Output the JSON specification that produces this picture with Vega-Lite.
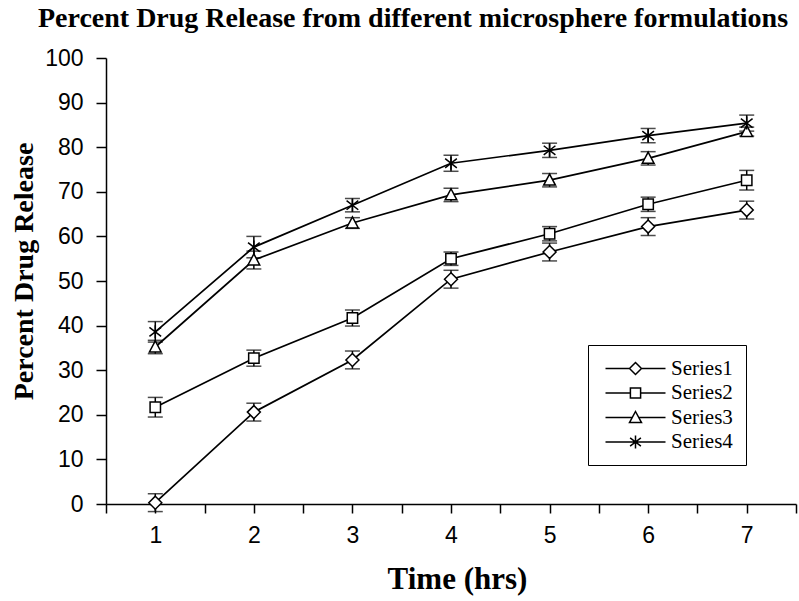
{
  "$schema": "https://vega.github.io/schema/vega-lite/v6.json",
  "autosize": "none",
  "width": 690,
  "height": 446,
  "padding": {"left": 106, "top": 58, "right": 3, "bottom": 97},
  "background": "white",
  "title": {
    "text": "Percent Drug Release from different microsphere formulations",
    "font": "Liberation Serif",
    "fontSize": 28,
    "fontWeight": "bold",
    "color": "black",
    "anchor": "middle",
    "frame": "group",
    "dx": -38,
    "baseline": "alphabetic",
    "offset": -8
  },
  "data": {
    "values": [
      {"series": "Series1", "t": 1, "v": 0.3, "e": 2.0},
      {"series": "Series1", "t": 2, "v": 20.6, "e": 2.0},
      {"series": "Series1", "t": 3, "v": 32.3, "e": 2.0},
      {"series": "Series1", "t": 4, "v": 50.4, "e": 2.0},
      {"series": "Series1", "t": 5, "v": 56.5, "e": 2.0},
      {"series": "Series1", "t": 6, "v": 62.2, "e": 2.0},
      {"series": "Series1", "t": 7, "v": 65.9, "e": 2.0},
      {"series": "Series2", "t": 1, "v": 21.7, "e": 2.2},
      {"series": "Series2", "t": 2, "v": 32.7, "e": 1.8},
      {"series": "Series2", "t": 3, "v": 41.7, "e": 1.8},
      {"series": "Series2", "t": 4, "v": 55.0, "e": 1.5},
      {"series": "Series2", "t": 5, "v": 60.6, "e": 1.6},
      {"series": "Series2", "t": 6, "v": 67.2, "e": 1.6},
      {"series": "Series2", "t": 7, "v": 72.6, "e": 2.2},
      {"series": "Series3", "t": 1, "v": 35.2, "e": 1.5},
      {"series": "Series3", "t": 2, "v": 54.7, "e": 2.0},
      {"series": "Series3", "t": 3, "v": 63.0, "e": 1.2},
      {"series": "Series3", "t": 4, "v": 69.3, "e": 1.5},
      {"series": "Series3", "t": 5, "v": 72.6, "e": 1.5},
      {"series": "Series3", "t": 6, "v": 77.5, "e": 1.5},
      {"series": "Series3", "t": 7, "v": 83.5, "e": 1.0},
      {"series": "Series4", "t": 1, "v": 38.6, "e": 2.3},
      {"series": "Series4", "t": 2, "v": 57.6, "e": 2.4},
      {"series": "Series4", "t": 3, "v": 67.0, "e": 1.5},
      {"series": "Series4", "t": 4, "v": 76.4, "e": 1.8},
      {"series": "Series4", "t": 5, "v": 79.3, "e": 1.6},
      {"series": "Series4", "t": 6, "v": 82.6, "e": 1.6},
      {"series": "Series4", "t": 7, "v": 85.4, "e": 1.8}
    ]
  },
  "encoding": {
    "x": {
      "field": "t",
      "type": "quantitative",
      "scale": {"domain": [0.5, 7.5], "nice": false, "zero": false},
      "axis": {
        "title": "Time (hrs)",
        "values": [0.5, 1, 1.5, 2, 2.5, 3, 3.5, 4, 4.5, 5, 5.5, 6, 6.5, 7, 7.5],
        "labelExpr": "datum.value % 1 === 0 ? format(datum.value, 'd') : ''",
        "labelFont": "Liberation Sans",
        "labelFontSize": 23,
        "labelPadding": 11,
        "tickSize": 9,
        "titleFont": "Liberation Serif",
        "titleFontSize": 31,
        "titleFontWeight": "bold",
        "titleX": 351,
        "titleY": 84,
        "titleBaseline": "alphabetic",
        "titleAlign": "center"
      }
    },
    "y": {
      "field": "v",
      "type": "quantitative",
      "scale": {"domain": [0, 100], "nice": false},
      "axis": {
        "title": "Percent Drug Release",
        "values": [0, 10, 20, 30, 40, 50, 60, 70, 80, 90, 100],
        "labelFont": "Liberation Sans",
        "labelFontSize": 23,
        "labelPadding": 13,
        "tickSize": 10,
        "titleFont": "Liberation Serif",
        "titleFontSize": 28,
        "titleFontWeight": "bold",
        "titleAngle": -90,
        "titleX": -82,
        "titleY": 213,
        "titleAlign": "center",
        "titleBaseline": "middle"
      }
    }
  },
  "layer": [
    {
      "mark": {"type": "errorbar", "color": "black", "thickness": 1.5, "ticks": {"size": 15, "thickness": 1.5, "color": "black"}},
      "encoding": {
        "y": {"field": "v", "type": "quantitative"},
        "yError": {"field": "e"}
      }
    },
    {
      "mark": {"type": "line", "color": "black", "strokeWidth": 1.7},
      "encoding": {"detail": {"field": "series"}}
    },
    {
      "mark": {"type": "point", "filled": false, "fill": "white", "fillOpacity": 1, "stroke": "black", "strokeWidth": 1.5, "opacity": 1, "size": 169},
      "encoding": {
        "shape": {
          "field": "series",
          "type": "nominal",
          "scale": {
            "domain": ["Series1", "Series2", "Series3", "Series4"],
            "range": [
              "M0,-1L1,0L0,1L-1,0Z",
              "M-0.8,-0.8H0.8V0.8H-0.8Z",
              "M0,-0.95L0.9,0.75L-0.9,0.75Z",
              "M0,-1V1M-0.9,-0.7L0.9,0.7M-0.9,0.7L0.9,-0.7"
            ]
          },
          "legend": null
        }
      }
    },
    {
      "mark": {"type": "point", "filled": false, "stroke": "black", "opacity": 0, "size": 144},
      "encoding": {
        "shape": {
          "field": "series",
          "type": "nominal",
          "scale": {
            "domain": ["Series1", "Series2", "Series3", "Series4"],
            "range": [
              "M-1,0L3,0L4,-1L5,0L9,0M5,0L4,1L3,0",
              "M-1,0L3.15,0M4.85,0L9,0M3.15,-0.85H4.85V0.85H3.15Z",
              "M-1,0L3.46,0M4.54,0L9,0M4,-1L5,0.85L3,0.85Z",
              "M-1,0L9,0M4,-1.1V1.1M3.1,-0.7L4.9,0.7M3.1,0.7L4.9,-0.7"
            ]
          },
          "legend": {
            "title": null,
            "orient": "none",
            "legendX": 482,
            "legendY": 287,
            "strokeColor": "black",
            "fillColor": "white",
            "padding": 13,
            "labelFont": "Liberation Serif",
            "labelFontSize": 21,
            "labelColor": "black",
            "labelOffset": 49,
            "rowPadding": 2.5,
            "symbolSize": 144,
            "symbolOpacity": 1,
            "symbolFillColor": "white",
            "symbolStrokeColor": "black",
            "symbolStrokeWidth": 1.5
          }
        }
      }
    }
  ],
  "resolve": {"scale": {"shape": "independent"}, "legend": {"shape": "independent"}},
  "config": {
    "view": {"stroke": null},
    "axis": {
      "grid": false,
      "domainColor": "black",
      "domainWidth": 1.5,
      "tickColor": "black",
      "tickWidth": 1.5,
      "labelColor": "black",
      "titleColor": "black"
    }
  }
}
